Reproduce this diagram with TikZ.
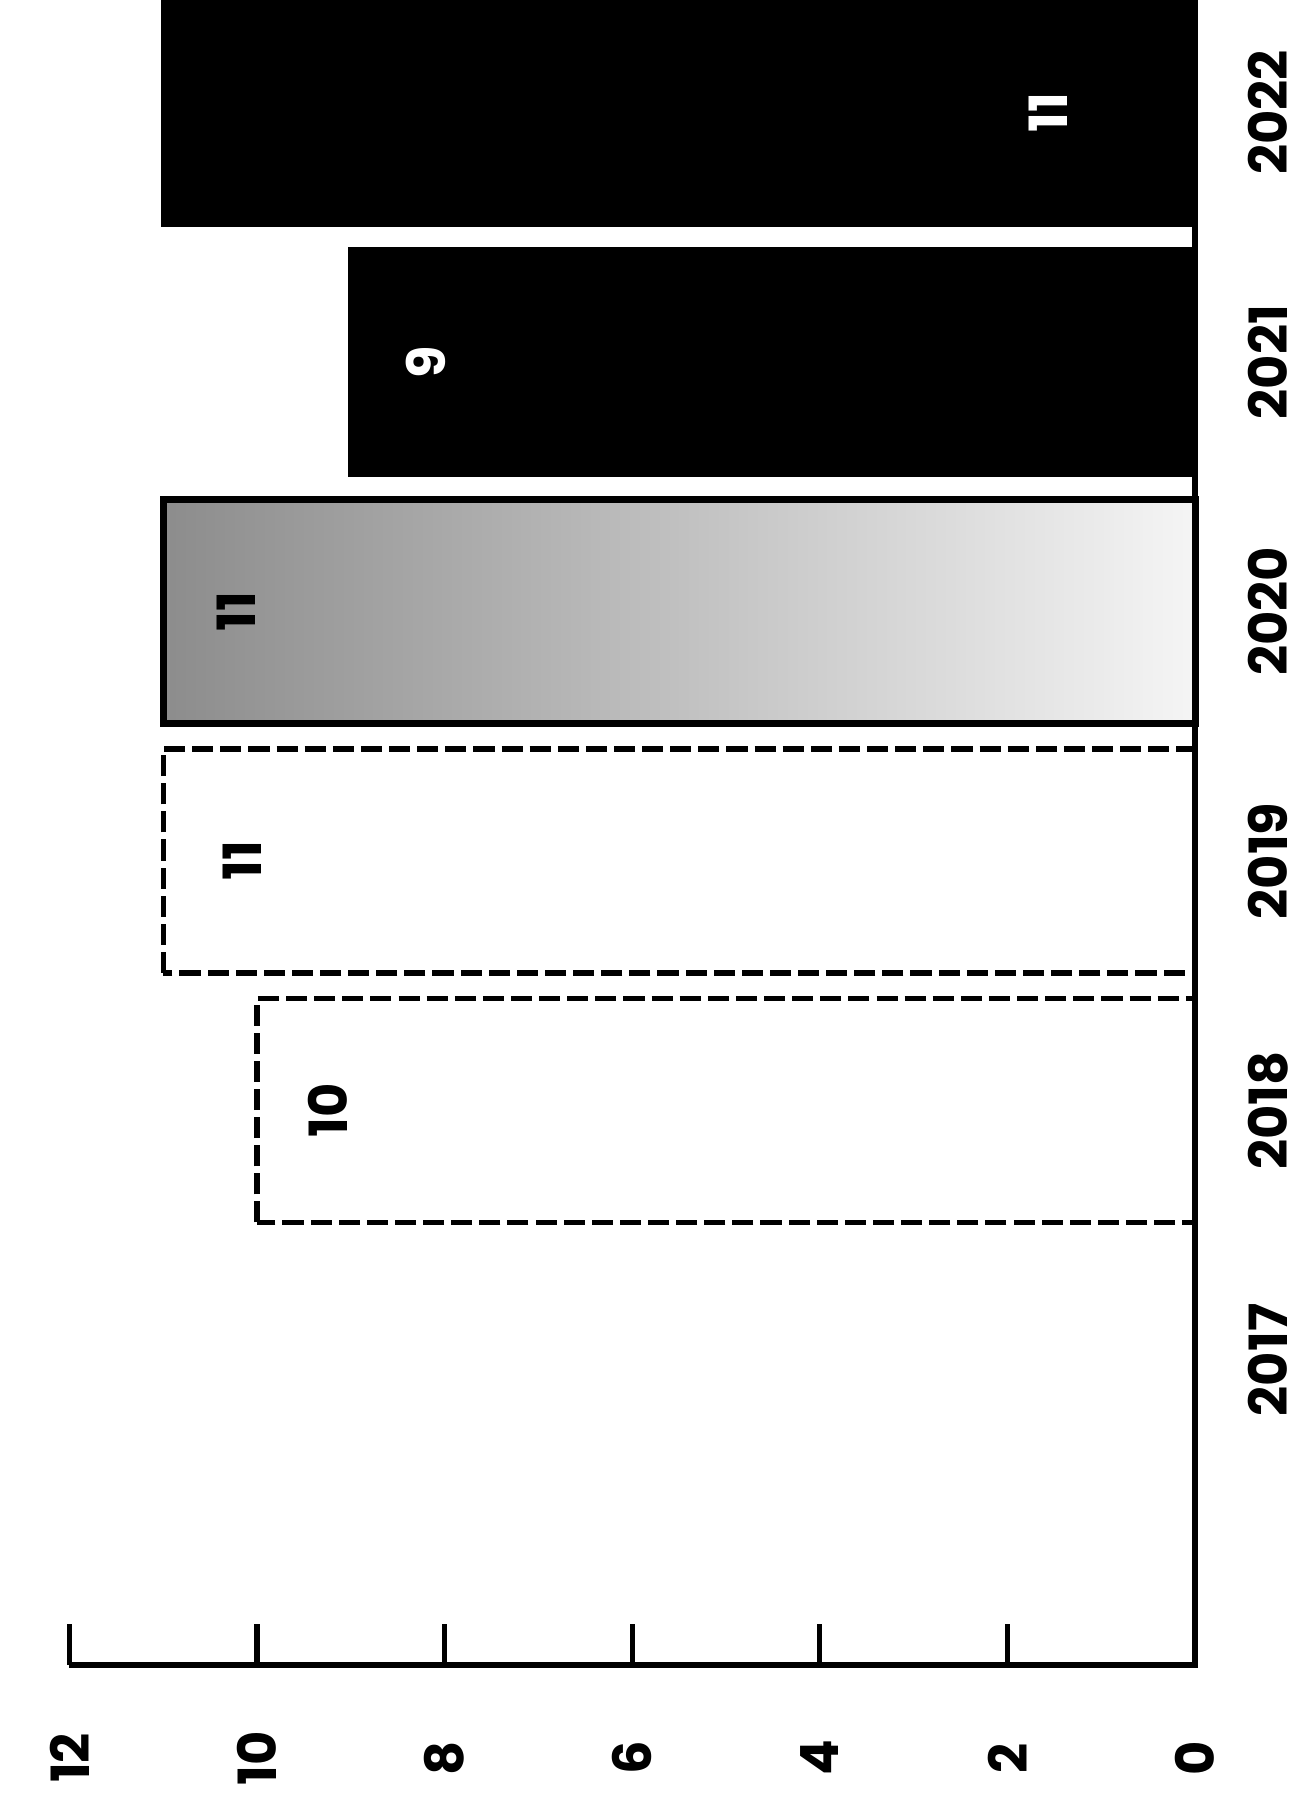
\documentclass[tikz,border=0pt]{standalone}
\usepackage{fontspec}
\setmainfont{Poppins}
\tikzset{every picture/.style={line width=1.5pt}}
\tikzset{
  axislabel/.style={rotate=90, font=\fontsize{15}{15}\selectfont\bfseries},
  barlabel/.style={rotate=90, font=\fontsize{15}{15}\selectfont\bfseries},
  darkbar/.style={draw=black, fill=black},
  greybar/.style={draw=black, line width=2pt, left color=black!45, right color=black!4},
  lightbar/.style={draw=black, dash pattern=on 6pt off 2pt, fill=white},
}
\def\u{0.938} % cm per unit of value
\def\w{1.12}  % half height of a bar
\def\xo{11.95} % x of the zero line
\def\yo{1.39}  % y of the value axis

\begin{document}
\begin{tikzpicture}
  \useasboundingbox (0,0) rectangle (13.03,18.04);
  % bars | year, value, style, x of the label, colour of the label
  \foreach \yr/\v/\st/\lx/\tc [count=\i] in {2018/10/lightbar/3.28/black,
      2019/11/lightbar/2.42/black, 2020/11/greybar/2.36/black,
      2021/9/darkbar/4.26/white, 2022/11/darkbar/10.48/white} {
      \pgfmathsetmacro\yc{4.44+2.495*\i}
      \draw[\st] (\xo-\v*\u,\yc-\w) rectangle (\xo,\yc+\w);
      \node[barlabel, text=\tc] (v\yr) at (\lx,\yc) {\v};
  };
  % axes
  \draw (\xo,18.04) -- (\xo,\yo) -- (\xo-12*\u,\yo);
  \foreach \t in {0,2,...,12} {
      \ifnum\t>0 \draw (\xo-\t*\u,\yo) -- ++(0,0.41); \fi
      \node[axislabel] (t\t) at (\xo-\t*\u,0.46) {\t};
  };
  % years
  \foreach \yr [count=\i from 0] in {2017,...,2022} {
      \node[axislabel] (y\yr) at (12.68,4.44+2.495*\i) {\yr};
  };
\end{tikzpicture}
\end{document}
